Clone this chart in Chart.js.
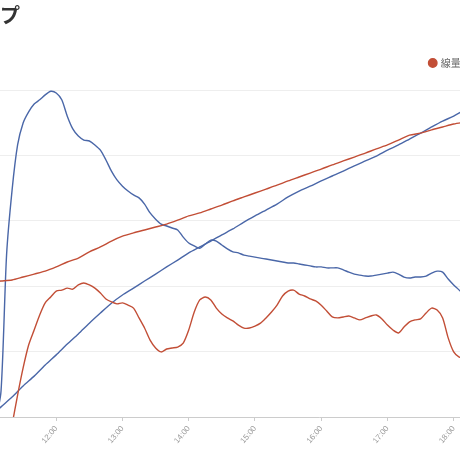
<!DOCTYPE html>
<html lang="ja">
<head>
<meta charset="utf-8">
<script src="https://cdn.jsdelivr.net/npm/chart.js@4/dist/chart.umd.min.js"></script>
<style>
    html, body { margin: 0; padding: 0; background: #fff; overflow: hidden; }
    body { width: 460px; height: 460px; position: relative; }
    #wrap { position: absolute; left: -60px; top: 0; width: 718px; height: 460px; }
</style>
</head>
<body>
<div id="wrap"><canvas id="grafico"></canvas></div>
<script>
// 11:00 を 0 分とした時刻軸
const hourLabels = ['11:00', '12:00', '13:00', '14:00', '15:00', '16:00', '17:00', '18:00', '19:00', '20:00', '21:00', '22:00'];
const seriesNames = ['線量率 A', '線量率 B', '積算 A', '積算 B'];

// 5分ごとの値
const rateA = [null, null, null, null, -2.4, 6.7, 15.0, 22.0, 26.6, 31.2, 34.9, 36.7, 38.5, 38.8, 39.4, 39.1,
    40.4, 41.0, 40.4, 39.4, 37.9, 36.1, 35.2, 34.6, 34.9, 34.2, 33.3, 30.3, 27.2, 23.5, 21.1, 19.9,
    20.8, 21.1, 21.4, 22.6, 26.6, 32.1, 35.8, 36.7, 35.8, 33.3, 31.5, 30.3, 29.4, 28.1, 27.2, 27.2,
    27.8, 28.7, 30.3, 32.1, 34.2, 37.0, 38.5, 38.8, 37.6, 37.0, 36.1, 35.5, 34.2, 32.4, 30.6, 30.3,
    30.6, 30.9, 30.3, 29.7, 30.3, 30.9, 31.2, 30.0, 28.1, 26.6, 25.7, 27.5, 29.1, 29.7, 30.0, 31.8,
    33.3, 32.7, 30.3, 24.2, 19.9, 18.3, 18.0];
const rateB = [0, 0, 8, 49.5, 69.4, 83.2, 89.9, 93.3, 95.7, 97.0, 98.5, 99.6, 99.1, 97.0, 92.0, 88.1,
    85.9, 84.7, 84.4, 83.2, 81.6, 78.6, 75.2, 72.5, 70.6, 69.1, 67.9, 67.0, 65.1, 62.4, 60.5, 59.0,
    58.4, 57.8, 57.2, 55.0, 53.2, 52.3, 51.6, 52.9, 54.1, 53.8, 52.6, 51.4, 50.5, 50.2, 49.5, 49.2,
    48.9, 48.6, 48.3, 48.0, 47.7, 47.4, 47.1, 47.1, 46.8, 46.5, 46.2, 45.9, 45.9, 45.6, 45.6, 45.6,
    45.0, 44.3, 43.7, 43.4, 43.1, 43.1, 43.4, 43.7, 44.0, 44.3, 43.7, 42.8, 42.5, 42.8, 42.8, 43.1,
    44.0, 44.6, 44.3, 42.2, 40.4, 38.8, 37.0];

// 10分ごとの値
const totalA = [41.3, 41.6, 41.9, 42.8, 43.7, 44.6, 45.9, 47.4, 48.6, 50.5, 52.0, 53.8, 55.3, 56.3, 57.2, 58.1,
    59.0, 60.2, 61.5, 62.4, 63.6, 64.8, 66.1, 67.3, 68.5, 69.7, 70.9, 72.2, 73.4, 74.6, 75.8, 77.1,
    78.3, 79.5, 80.7, 82.0, 83.2, 84.7, 86.2, 86.8, 87.8, 88.7, 89.6, 90.2];
const totalB = [0, 3.1, 6.1, 9.5, 12.5, 15.9, 19.0, 22.3, 25.4, 28.7, 31.8, 34.8, 37.3, 39.4, 41.6, 43.7,
    45.9, 48.0, 50.2, 52.0, 53.8, 55.7, 57.5, 59.6, 61.5, 63.3, 65.1, 67.3, 69.1, 70.6, 72.2, 73.7,
    75.2, 76.8, 78.3, 79.8, 81.6, 83.2, 85.0, 86.8, 88.7, 90.5, 92.0, 93.9];

const RED = '#c24e36';
const BLUE = '#4a67a8';

function toPoints(values, stepMin) {
    return values.map((v, i) => ({ x: i * stepMin, y: v }));
}

function makeDataset(label, values, stepMin, color) {
    return {
        label: label,
        data: toPoints(values, stepMin),
        borderColor: color,
        backgroundColor: color,
        borderWidth: 1.4,
        pointRadius: 0,
        tension: 0.25,
        spanGaps: false
    };
}

document.addEventListener('DOMContentLoaded', () => {
    const ctx = document.getElementById('grafico').getContext('2d');

    new Chart(ctx, {
        type: 'line',
        data: {
            datasets: [
                makeDataset(seriesNames[0], rateA, 5, RED),
                makeDataset(seriesNames[2], totalA, 10, RED),
                makeDataset(seriesNames[1], rateB, 5, BLUE),
                makeDataset(seriesNames[3], totalB, 10, BLUE)
            ]
        },
        options: {
            responsive: true,
            maintainAspectRatio: false,
            animation: false,
            layout: { padding: { left: 0, right: 10, top: 0, bottom: 0 } },
            plugins: {
                title: {
                    display: true,
                    text: 'グループ',
                    align: 'start',
                    color: '#333',
                    font: { family: '"Noto Sans CJK JP", sans-serif', size: 20, weight: 'bold' },
                    padding: { top: 3, bottom: 21 }
                },
                legend: {
                    position: 'top',
                    align: 'end',
                    labels: {
                        usePointStyle: true,
                        pointStyle: 'circle',
                        boxWidth: 6,
                        boxHeight: 6,
                        padding: 10,
                        color: '#666',
                        font: { family: '"Noto Sans CJK JP", sans-serif', size: 10 }
                    }
                },
                tooltip: { enabled: false }
            },
            scales: {
                x: {
                    type: 'linear',
                    min: 0,
                    max: 596,
                    grid: { drawOnChartArea: false, tickLength: 4, color: '#ccc' },
                    border: { color: '#ccc' },
                    ticks: {
                        stepSize: 60,
                        autoSkip: false,
                        minRotation: 50,
                        maxRotation: 50,
                        padding: 3,
                        color: '#999',
                        font: { size: 8 },
                        callback: value => hourLabels[value / 60]
                    },
                    afterFit: scale => { scale.height = 43; }
                },
                xTop: {
                    type: 'linear',
                    position: 'top',
                    grid: { display: false },
                    border: { display: false },
                    ticks: { display: false },
                    afterFit: scale => { scale.height = 12; }
                },
                y: {
                    min: 0,
                    max: 100,
                    grid: { color: '#eee' },
                    border: { display: false },
                    ticks: { stepSize: 20, color: '#999', font: { size: 10 } },
                    afterFit: scale => { scale.width = 50; }
                }
            }
        }
    });
});
</script>
</body>
</html>
